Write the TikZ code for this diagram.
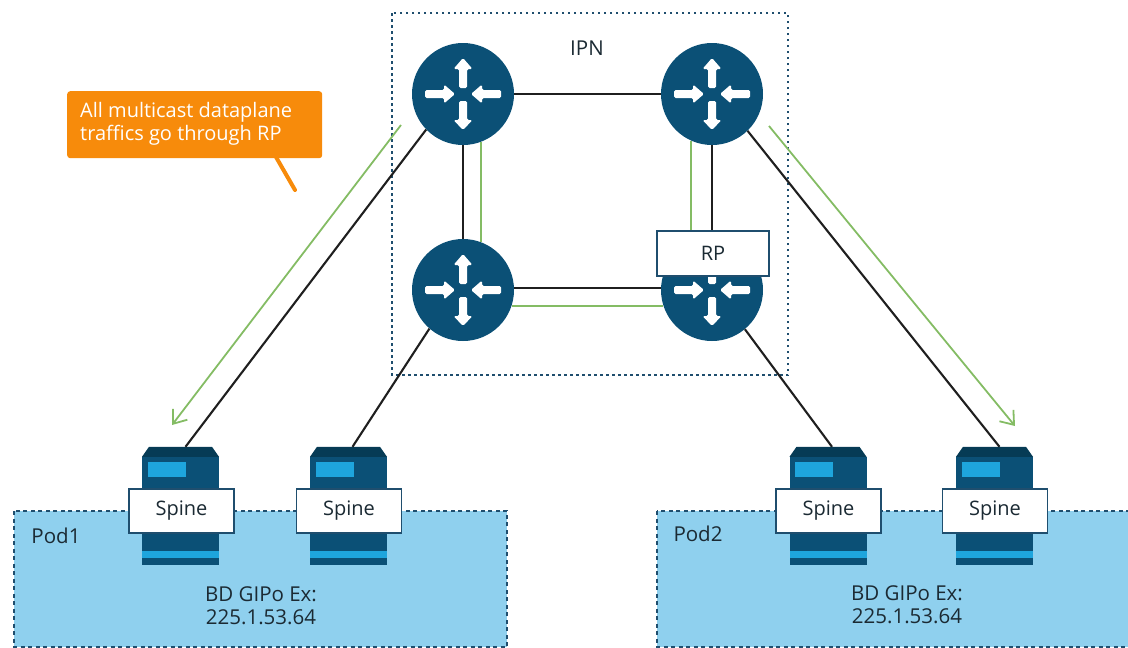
\documentclass[tikz,border=0pt]{standalone}
\usepackage{fontspec}
\setmainfont{Open Sans}
\usetikzlibrary{arrows.meta}
\definecolor{router}{HTML}{0B5076}
\definecolor{spinetop}{HTML}{063B55}
\definecolor{spinelight}{HTML}{1EA5DD}
\definecolor{podfill}{HTML}{8FD0EE}
\definecolor{ipnline}{HTML}{1F4E6E}
\definecolor{flow}{HTML}{84BC64}
\definecolor{callout}{HTML}{F78B0B}
\definecolor{inktext}{HTML}{1B2A33}

\begin{document}
\begin{tikzpicture}[x=1pt,y=-1pt]
    \tikzset{%
      routernode/.style={circle, fill=router, inner sep=0pt, minimum size=102pt},
      spinenode/.style={rectangle, inner sep=0pt, minimum width=77pt, minimum height=118pt},
      labelbox/.style={rectangle, draw=ipnline, line width=1.4pt, fill=white, inner sep=0pt,
        minimum width=105pt, minimum height=44pt, font=\fontsize{20}{22}\selectfont, text=inktext},
      podbox/.style={draw=ipnline, line width=1.5pt, dash pattern=on 4pt off 3.5pt, fill=podfill},
      ipnbox/.style={draw=ipnline, line width=2.2pt, dash pattern=on 2.5pt off 3.5pt},
      link/.style={black!88, line width=2.1pt},
      greenlink/.style={flow, line width=2.2pt},
      greenarrow/.style={flow, line width=1.8pt, -{Straight Barb[length=12pt,width=18pt]}},
      plaintext/.style={inner sep=0pt, align=center, text=inktext, font=\fontsize{20.5}{23}\selectfont},
      routerarrow/.style={fill=white, rounded corners=1.5pt},
      routericon/.pic={
        \fill [routerarrow] (-4,-6) -- (-4,-25) -- (-9.5,-25) -- (0,-36) -- (9.5,-25) -- (4,-25) -- (4,-6) -- cycle;
        \fill [routerarrow] (-4,7) -- (-4,26) -- (-9.5,26) -- (0,36) -- (9.5,26) -- (4,26) -- (4,7) -- cycle;
        \fill [routerarrow] (-38,-4) -- (-19,-4) -- (-19,-9.5) -- (-8,0) -- (-19,9.5) -- (-19,4) -- (-38,4) -- cycle;
        \fill [routerarrow] (38,-4) -- (19,-4) -- (19,-9.5) -- (8,0) -- (19,9.5) -- (19,4) -- (38,4) -- cycle;
      },
      spineicon/.pic={
        \fill [router] (-38.5,10) rectangle (38.5,118);
        \fill [spinetop] (-38.5,10) -- (-31.5,0) -- (31.5,0) -- (38.5,10) -- cycle;
        \fill [spinelight] (-33,15) rectangle (5,30);
        \fill [spinelight] (-38.5,104) rectangle (38.5,111);
      },
    }
    \useasboundingbox (0,0) rectangle (1128,648);

    % pods
    \draw [podbox] (14,511) rectangle (507,647);
    \draw [podbox] (657,511) rectangle (1140,647);
    \node[plaintext] (POD1) at (56,536) {Pod1};
    \node[plaintext] (POD2) at (698,534) {Pod2};
    \node[plaintext] (GIPO1) at (261,606) {BD GIPo Ex:\\225.1.53.64};
    \node[plaintext] (GIPO2) at (907,605) {BD GIPo Ex:\\225.1.53.64};

    % IPN
    \draw [ipnbox] (392,13) rectangle (788,375);
    \node[plaintext] (IPN) at (587,48) {IPN};

    % routers
    \node[routernode] (R1) at (463,94) {};
    \node[routernode] (R2) at (712,94) {};
    \node[routernode] (R3) at (463,290) {};
    \node[routernode] (R4) at (712,290) {};
    \pic at (R1) {routericon};
    \pic at (R2) {routericon};
    \pic at (R3) {routericon};
    \pic at (R4) {routericon};

    \draw [link] (R1) -- (R2);
    \draw [link] (R1) -- (R3);
    \draw [link] (R2) -- (R4);
    \draw [link] (R3.2) -- (R4.178);
    \draw [greenlink] (R1.-69) -- (R3.69);
    \draw [greenlink] (R2.-114) -- (R4.114);
    \draw [greenlink] (R3.-18) -- (R4.198);

    % spines
    \node[spinenode] (S1) at (180.5,506) {};
    \node[spinenode] (S2) at (348.5,506) {};
    \node[spinenode] (S3) at (828,506) {};
    \node[spinenode] (S4) at (994.5,506) {};
    \pic at (S1.north) {spineicon};
    \pic at (S2.north) {spineicon};
    \pic at (S3.north) {spineicon};
    \pic at (S4.north) {spineicon};

    \draw [link] (R1.224) -- ([xshift=5pt]S1.north);
    \draw [link] (R3.229) -- ([xshift=4pt]S2.north);
    \draw [link] (R2.-46) -- ([xshift=5pt]S4.north);
    \draw [link] (R4.-50) -- ([xshift=4pt]S3.north);

    \node[labelbox] (L1) at (181.5,511) {Spine};
    \node[labelbox] (L2) at (349,511) {Spine};
    \node[labelbox] (L3) at (828.5,511) {Spine};
    \node[labelbox] (L4) at (995,511) {Spine};
    \node[labelbox, minimum width=112pt, minimum height=45pt] (RP) at (713,253.5) {RP};

    % traffic through RP
    \coordinate (G1a) at (401,125);
    \coordinate (G1b) at (172,425);
    \coordinate (G2a) at (769,126);
    \coordinate (G2b) at (1015,426);
    \draw [greenarrow] (G1a) -- (G1b);
    \draw [greenarrow] (G2a) -- (G2b);

    % callout
    \coordinate (T1) at (276,157);
    \coordinate (T2) at (295,190);
    \draw [callout, line width=4pt, line cap=round] (T1) -- (T2);
    \node[anchor=north west, fill=callout, rounded corners=3pt, inner sep=0pt, minimum width=255pt,
      minimum height=67pt] (NOTE) at (67,91) {};
    \node[anchor=west, inner sep=0pt, align=left, text=white, font=\fontsize{20}{23}\selectfont]
      (NOTETEXT) at (80,124) {All multicast dataplane\\traffics go through RP};
  \end{tikzpicture}
\end{document}
